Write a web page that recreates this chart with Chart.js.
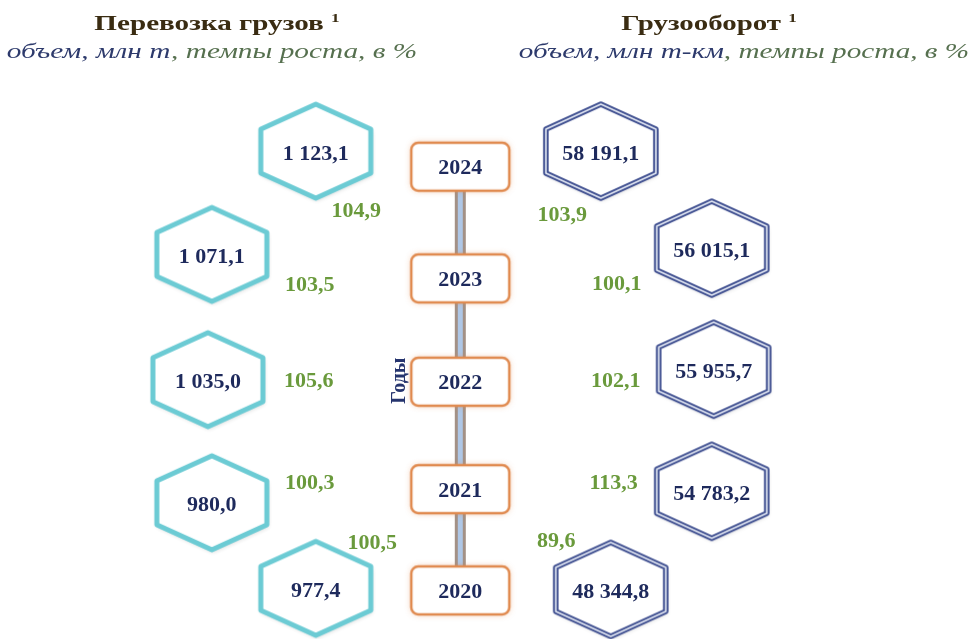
<!DOCTYPE html>
<html lang="ru">
<head>
<meta charset="utf-8">
<title>Перевозка грузов и грузооборот</title>
<script src="https://cdn.jsdelivr.net/npm/chart.js@4.4.1/dist/chart.umd.min.js"></script>
<style>
  body { margin: 0; background: #fff; }
  #wrap { position: relative; width: 978px; height: 639px; overflow: hidden; }
  #wrap canvas { position: absolute; left: 0; top: 0; }
  .fit { position: absolute; white-space: nowrap; line-height: 1; font-family: "Liberation Serif", serif; }
  .head { font-weight: bold; font-size: 22px; color: #3a2c12; }
  .head sup { font-size: 13px; vertical-align: 8px; }
  .sub { font-style: italic; font-size: 22px; }
  .blue { color: #2d3a6c; }
  .green { color: #56704f; }
</style>
</head>
<body>
<div id="wrap">
  <canvas id="chart"></canvas>
  <div class="fit head" data-c="217" data-w="245" style="top:11px">Перевозка грузов <sup>1</sup></div>
  <div class="fit sub" data-c="212" data-w="410" style="top:40px"><span class="blue">объем, млн т</span><span class="green">, темпы роста, в %</span></div>
  <div class="fit head" data-c="709" data-w="176" style="top:11px">Грузооборот <sup>1</sup></div>
  <div class="fit sub" data-c="744" data-w="450" style="top:40px"><span class="blue">объем, млн т-км</span><span class="green">, темпы роста, в %</span></div>
</div>
<script>
// data
var years = [2024, 2023, 2022, 2021, 2020];
var cargoVolume = [1123.1, 1071.1, 1035.0, 980.0, 977.4];      // млн т
var cargoGrowth = [104.9, 103.5, 105.6, 100.3, 100.5];         // %
var turnoverVolume = [58191.1, 56015.1, 55955.7, 54783.2, 48344.8]; // млн т-км
var turnoverGrowth = [103.9, 100.1, 102.1, 113.3, 89.6];       // %

// layout of the picture (columns and small vertical shifts, in axis units)
var boxShift = [0.05, -0.02, -0.01, -0.04, -0.01];
var leftHexX = [-1.46, -2.51, -2.55, -2.51, -1.46];
var leftHexShift = [0.19, 0.2, 0, -0.18, 0];
var rightHexX = [1.42, 2.54, 2.56, 2.54, 1.52];
var rightHexShift = [0.19, 0.26, 0.1, -0.07, -0.01];
var leftRateX = [-1.05, -1.52, -1.53, -1.52, -0.89];
var leftRateShift = [-0.36, -0.07, 0.015, 0.04, 0.46];
var rightRateX = [1.03, 1.58, 1.57, 1.55, 0.97];
var rightRateShift = [-0.4, -0.06, 0.015, 0.04, 0.48];

// fit the headings to their width
document.querySelectorAll('.fit').forEach(function (el) {
  var k = el.dataset.w / el.offsetWidth;
  el.style.left = el.dataset.c + 'px';
  el.style.transform = 'translateX(-50%) scaleX(' + k.toFixed(3) + ')';
});

function fmt(v) {
  var p = v.toFixed(1).split('.');
  return p[0].replace(/\B(?=(\d{3})+(?!\d))/g, ' ') + ',' + p[1];
}

function hexImg(stroke, dbl) {
  var c = document.createElement('canvas');
  c.width = 126; c.height = 112;
  var g = c.getContext('2d');
  g.translate(63, 55);
  var pts = [[0, -47], [55, -22], [55, 22], [0, 47], [-55, 22], [-55, -22]];
  g.beginPath();
  pts.forEach(function (p, i) { i ? g.lineTo(p[0], p[1]) : g.moveTo(p[0], p[1]); });
  g.closePath();
  g.lineJoin = 'round';
  g.shadowColor = 'rgba(0,0,0,0.2)'; g.shadowBlur = 5; g.shadowOffsetX = 1; g.shadowOffsetY = 2;
  g.fillStyle = '#fff'; g.fill();
  g.shadowColor = 'transparent';
  g.lineWidth = dbl ? 5.5 : 5; g.strokeStyle = stroke; g.stroke();
  if (dbl) { g.lineWidth = 1.6; g.strokeStyle = '#e6ebf6'; g.stroke(); }
  return c;
}

function boxImg() {
  var c = document.createElement('canvas');
  c.width = 120; c.height = 70;
  var g = c.getContext('2d');
  g.beginPath();
  g.roundRect(11, 11, 98, 48, 7);
  g.shadowColor = 'rgba(228,140,80,0.5)'; g.shadowBlur = 6;
  g.fillStyle = '#fff'; g.fill();
  g.shadowColor = 'transparent';
  g.lineWidth = 2.5; g.strokeStyle = '#e08a4f'; g.stroke();
  return c;
}

var textPlugin = {
  id: 'texts',
  afterDatasetsDraw: function (chart) {
    var ctx = chart.ctx;
    chart.data.datasets.forEach(function (ds, i) {
      if (!ds.texts) return;
      var meta = chart.getDatasetMeta(i);
      ctx.save();
      ctx.font = ds.textFont;
      ctx.fillStyle = ds.textColor;
      ctx.textAlign = 'center';
      ctx.textBaseline = 'middle';
      meta.data.forEach(function (pt, j) { ctx.fillText(ds.texts[j], pt.x, pt.y + 2); });
      ctx.restore();
    });
    // axis caption
    ctx.save();
    ctx.translate(chart.scales.x.getPixelForValue(-0.61), chart.scales.y.getPixelForValue(2022));
    ctx.rotate(-Math.PI / 2);
    ctx.font = 'bold 20px "Liberation Serif"';
    ctx.fillStyle = '#25346e';
    ctx.textAlign = 'center';
    ctx.textBaseline = 'middle';
    ctx.fillText('Годы', 0, 0);
    ctx.restore();
  }
};

var spine = years.map(function (y) { return { x: 0, y: y }; });
var valueFont = 'bold 22px "Liberation Serif"';

new Chart(document.getElementById('chart'), {
  type: 'scatter',
  data: {
    datasets: [
      { data: spine, showLine: true, borderColor: '#a39186', borderWidth: 11, pointRadius: 0, order: 6 },
      { data: spine, showLine: true, borderColor: '#afc7e6', borderWidth: 5, pointRadius: 0, order: 5 },
      {
        data: years.map(function (y, i) { return { x: 0, y: y + boxShift[i] }; }),
        pointStyle: boxImg(), pointRadius: 1, order: 4,
        texts: years.map(String), textFont: valueFont, textColor: '#1e2a5c'
      },
      {
        data: years.map(function (y, i) { return { x: leftHexX[i], y: y + leftHexShift[i] }; }),
        pointStyle: hexImg('#6ccbd4', false), pointRadius: 1, order: 3,
        texts: cargoVolume.map(fmt), textFont: valueFont, textColor: '#1e2a5c'
      },
      {
        data: years.map(function (y, i) { return { x: rightHexX[i], y: y + rightHexShift[i] }; }),
        pointStyle: hexImg('#3f4f90', true), pointRadius: 1, order: 3,
        texts: turnoverVolume.map(fmt), textFont: valueFont, textColor: '#1e2a5c'
      },
      {
        data: years.map(function (y, i) { return { x: leftRateX[i], y: y + leftRateShift[i] }; }),
        pointRadius: 0, order: 2,
        texts: cargoGrowth.map(fmt), textFont: valueFont, textColor: '#6a9a3c'
      },
      {
        data: years.map(function (y, i) { return { x: rightRateX[i], y: y + rightRateShift[i] }; }),
        pointRadius: 0, order: 2,
        texts: turnoverGrowth.map(fmt), textFont: valueFont, textColor: '#6a9a3c'
      }
    ]
  },
  options: {
    responsive: true,
    maintainAspectRatio: false,
    animation: false,
    events: [],
    clip: false,
    layout: { padding: 0 },
    plugins: { legend: { display: false }, tooltip: { enabled: false } },
    scales: {
      x: { type: 'linear', display: false, min: -4.6, max: 5.18 },
      y: { type: 'linear', display: false, min: 2019.572, max: 2025.6 }
    }
  },
  plugins: [textPlugin]
});
</script>
</body>
</html>
